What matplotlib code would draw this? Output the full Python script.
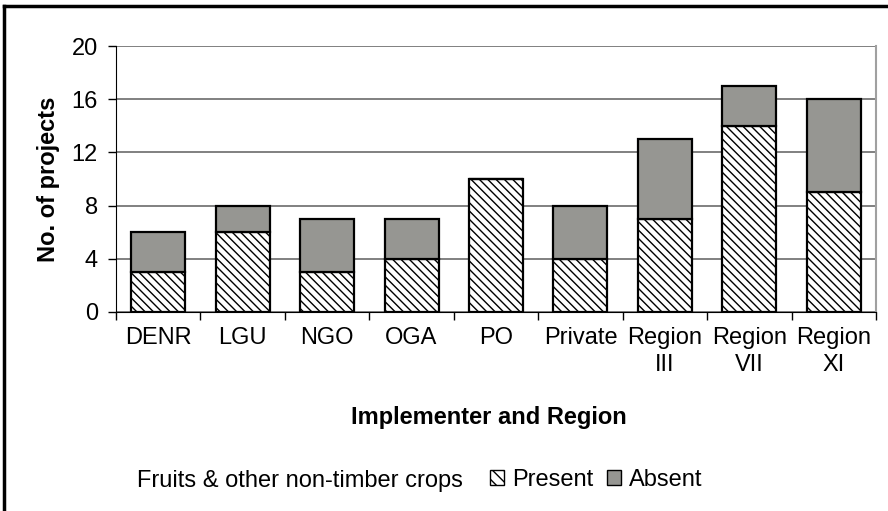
import matplotlib
matplotlib.use("Agg")
import matplotlib.pyplot as plt
from matplotlib.patches import Patch
from matplotlib.lines import Line2D
import numpy as np

categories = ["DENR", "LGU", "NGO", "OGA", "PO", "Private", "Region\nIII", "Region\nVII", "Region\nXI"]
present = [3, 6, 3, 4, 10, 4, 7, 14, 9]
absent = [3, 2, 4, 3, 0, 4, 6, 3, 7]
yticks = [0, 4, 8, 12, 16, 20]

plt.rcParams['font.family'] = ['Liberation Sans', 'DejaVu Sans']
plt.rcParams['hatch.linewidth'] = 1.0

FS = 17
W, H = 888, 511

fig = plt.figure(figsize=(8.88, 5.11), dpi=100)
ax = fig.add_axes([116/W, 1-312/H, (876-116)/W, (312-46)/H])

x = np.arange(len(categories))
w = 0.64
ax.bar(x, present, w, color='white', edgecolor='black', hatch='\\\\\\\\', linewidth=1.6, zorder=3)
ax.bar(x, absent, w, bottom=present, color='#969692', edgecolor='black', linewidth=1.6, zorder=3)

ax.set_xlim(-0.5, len(categories)-0.5)
ax.set_ylim(0, 20)
ax.set_yticks(yticks)
ax.yaxis.grid(True, color='#808080', linewidth=1.4, zorder=0)
ax.set_axisbelow(True)
ax.tick_params(axis='y', labelsize=FS, length=5.5, width=1, direction='out', pad=7.5)
ax.set_xticks(x)
ax.set_xticklabels(categories, fontsize=FS, linespacing=1.25)
ax.tick_params(axis='x', length=0, pad=11)
ax.set_xticks(np.arange(len(categories)+1)-0.5, minor=True)
ax.tick_params(axis='x', which='minor', length=5.5, width=1, direction='out')

ax.spines['left'].set_color('black')
ax.spines['bottom'].set_color('black')
ax.spines['top'].set_visible(False)
ax.spines['right'].set_color('#a0a0a0')
ax.spines['right'].set_linewidth(1.5)

ax.set_ylabel("No. of projects", fontsize=FS, fontweight='bold')
ax.yaxis.set_label_coords(-0.074, 0.5)

fig.text(489/W, 1-424/H, "Implementer and Region", fontsize=FS, fontweight='bold',
         ha='center', va='baseline')

fig.text(137/W, 1-487/H, "Fruits & other non-timber crops", fontsize=FS, ha='left', va='baseline')
handles = [Patch(facecolor='white', edgecolor='black', hatch='\\\\\\', linewidth=1),
           Patch(facecolor='#969692', edgecolor='black', linewidth=1)]
labels = ["Present", "Absent"]
fig.legend(handles, labels, loc='center left', bbox_to_anchor=(490/W, 1-480/H), ncol=2,
           frameon=False, fontsize=FS, handlelength=0.6, handleheight=0.6,
           handletextpad=0.35, columnspacing=0.55, borderpad=0, borderaxespad=0)

# outer frame (left and top only visible)
fig.add_artist(Line2D([4/W, 4/W], [0, 1-6/H], transform=fig.transFigure, color='black', linewidth=2.5))
fig.add_artist(Line2D([4/W, 1], [1-6/H, 1-6/H], transform=fig.transFigure, color='black', linewidth=2.5))

fig.savefig("out.png", dpi=100)
